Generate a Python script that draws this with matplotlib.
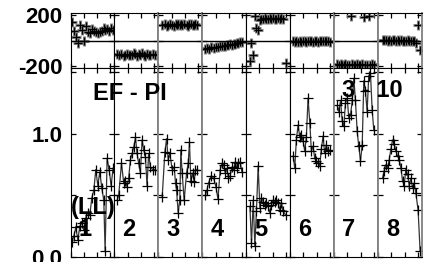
import matplotlib
matplotlib.use("Agg")
import matplotlib.pyplot as plt

plt.rcParams["font.family"] = ["Liberation Sans", "DejaVu Sans"]
plt.rcParams["font.weight"] = "bold"

# x positions (days within each segment, 0..33)
x1 = [1, 2.5, 4, 5.5, 7, 8.5, 10, 11.5, 13, 14.5, 16, 17.5, 19, 20.5, 22, 23.5, 25, 26, 27.5, 29, 30.5, 32]
x2 = [2, 3.2, 5.3, 7, 8.2, 9.5, 10.7, 12, 13.3, 14.5, 15.8, 17, 18.2, 19.5, 20.8, 22, 23.3, 24.5, 25.7, 27, 28.7, 30.2]
x3 = [2.9, 4.9, 6.2, 7.4, 8.6, 10.4, 11.9, 12.9, 13.7, 14.9, 16.1, 16.9, 17.9, 19.4, 21.2, 22.4, 23.4, 24.4, 25.7, 26.9, 27.9, 29.4]
x4 = [2.3, 3.5, 4.7, 6.8, 8.5, 10.3, 11.8, 13.5, 14.8, 16, 17.3, 18.5, 19.7, 21, 22.3, 23.5, 24.8, 26, 27.2, 28.5, 29.8]
x5 = [2.8, 4, 5.3, 6.5, 7.7, 9, 10.3, 11.5, 12.8, 14, 15.2, 16.5, 17.8, 19, 20.3, 21.5, 22.7, 24, 25.3, 26.5, 27.8, 29.8]
x6 = [2.3, 3.5, 4.7, 6, 7.3, 8.5, 9.8, 11, 12.2, 13.5, 14.8, 16, 17.3, 18.5, 19.7, 21, 22.3, 23.5, 24.8, 26, 27.2, 28.5, 30.2]
x7 = [2.4, 3.6, 4.9, 6.2, 7.4, 8.6, 9.9, 11.1, 12.4, 13.7, 14.9, 16.1, 17.4, 18.6, 19.9, 21.2, 22.4, 23.6, 24.9, 26.1, 27.4, 28.7, 29.9]
x8 = [3.5, 4.7, 6, 7.3, 8.5, 9.8, 11, 12.2, 13.5, 14.8, 16, 17.3, 18.5, 19.7, 21, 22.3, 23.5, 24.8, 26, 27.2, 28.5, 30.2, 31.7]

# lower panel: EF - PI values
ef1 = [0.12, 0.17, 0.24, 0.14, 0.25, 0.28, 0.22, 0.32, 0.36, 0.34, 0.48, 0.54, 0.71, 0.58, 0.69, 0.56, 0.46, 0.05, 0.80, 0.71, 0.58, 0.72]
ef2 = [0.46, 0.50, 0.76, 0.60, 0.62, 0.57, 0.64, 0.79, 0.84, 0.89, 0.97, 0.84, 0.76, 0.68, 0.95, 0.87, 0.81, 0.58, 0.84, 0.73, 0.71, 0.71]
ef3 = [0.49, 0.85, 0.96, 0.79, 0.84, 0.71, 0.73, 0.60, 0.54, 0.36, 0.46, 0.87, 0.68, 0.46, 0.68, 0.76, 0.93, 0.62, 0.68, 0.61, 0.71, 0.71]
ef4 = [0.50, 0.54, 0.60, 0.66, 0.64, 0.57, 0.47, 0.71, 0.76, 0.75, 0.68, 0.72, 0.64, 0.66, 0.73, 0.71, 0.77, 0.72, 0.76, 0.77, 0.69]
ef5 = [0.41, 0.11, 0.46, 0.09, 0.37, 0.74, 0.40, 0.48, 0.45, 0.42, 0.44, 0.41, 0.36, 0.42, 0.46, 0.45, 0.46, 0.44, 0.38, 0.44, 0.37, 0.34]
ef6 = [0.82, 0.72, 0.95, 1.07, 0.97, 0.99, 0.94, 0.86, 0.97, 1.29, 1.09, 0.86, 0.90, 0.80, 0.78, 0.76, 0.74, 0.88, 0.98, 0.84, 0.91, 0.86, 0.87]
ef7 = [1.23, 1.18, 1.27, 1.10, 1.06, 1.25, 1.29, 1.13, 1.15, 1.27, 1.45, 1.27, 1.02, 0.90, 0.78, 0.91, 1.43, 1.35, 1.18, 1.47, 1.49, 1.19, 1.03]
ef8 = [0.64, 0.70, 0.75, 0.72, 0.79, 0.88, 0.95, 0.92, 0.86, 0.82, 0.79, 0.72, 0.62, 0.58, 0.71, 0.67, 0.58, 0.64, 0.56, 0.60, 0.52, 0.38, 0.05]

# upper panel: phase values
ph1 = [145, 72, 25, -20, 124, 84, -6, 111, 66, 59, 90, 75, 66, 59, 70, 75, 98, 84, 90, 77, 95, 80]
ph2 = [-105, -112, -108, -118, -110, -104, -115, -109, -112, -100, -106, -120, -108, -113, -96, -110, -117, -105, -109, -114, -108, -112]
ph3 = [120, 128, 118, 125, 130, 122, 116, 127, 124, 132, 119, 126, 121, 129, 123, 118, 127, 131, 122, 125, 128, 120]
ph4 = [-64, -58, -62, -52, -55, -48, -50, -44, -46, -40, -42, -36, -38, -30, -34, -26, -28, -20, -22, -14, -8]
ph5 = [-163, -20, -111, 190, 98, 84, 163, 172, 168, 175, 166, 170, 178, 169, 174, 171, 167, 176, 170, 173, 168, -176]
ph6 = [-2, -8, 0, -10, -4, -12, -6, -3, -9, -5, -7, -1, -8, -4, -6, -10, -3, -5, -7, -2, -6, -4, -8]
ph7 = [-186, -190, -184, -192, -188, -185, -191, -187, 189, -183, -189, -190, -186, -188, -192, -185, 181, -189, -187, 189, -191, -186, -188]
ph8 = [6, 2, 8, 0, 4, -2, 5, 1, -4, 3, -1, 2, -5, 0, -3, 1, -6, -2, 0, -4, -20, 124, -72]

seg_labels = ["1", "2", "3", "4", "5", "6", "7", "8"]

xs = [x1, x2, x3, x4, x5, x6, x7, x8]
efs = [ef1, ef2, ef3, ef4, ef5, ef6, ef7, ef8]
phs = [ph1, ph2, ph3, ph4, ph5, ph6, ph7, ph8]

# which segment edges are drawn grey (left edge, right edge)
grey_left = [False, False, True, True, False, False, True, True]
grey_right = [False, True, True, False, False, True, True, True]

fig = plt.figure(figsize=(4.3, 2.62), dpi=100)
gs = fig.add_gridspec(2, 8, left=0.164, right=0.981, top=0.950, bottom=0.019,
                      height_ratios=[55, 189], wspace=0, hspace=0)

for i in range(8):
    top = fig.add_subplot(gs[0, i])
    bot = fig.add_subplot(gs[1, i])

    # grey halo under the plus marks, then the marks themselves
    top.plot(xs[i], phs[i], "+", color="#888888", markersize=7, mew=2.2)
    top.plot(xs[i], phs[i], "+", color="black", markersize=6, mew=0.9)
    top.axhline(0, color="black", linewidth=1)
    top.set_ylim(-215, 215)
    top.set_yticks([-200, 0, 200])

    bot.plot(xs[i], efs[i], color="#333333", linewidth=0.9)
    bot.plot(xs[i], efs[i], "+", color="black", markersize=7, mew=0.9)
    bot.set_ylim(0, 1.533)
    bot.set_yticks([0, 0.5, 1.0, 1.5])
    bot.text(11, 0.22, seg_labels[i], fontsize=17, fontweight="bold",
             ha="center", va="center")

    for ax in (top, bot):
        ax.set_xlim(0, 33)
        ax.set_xticks([0, 10, 20, 30])
        ax.tick_params(direction="in", top=True, right=True, length=3.5,
                       width=0.9, labelbottom=False, labelsize=16, pad=6)
        ax.spines["left"].set_color("#808080" if grey_left[i] else "black")
        ax.spines["right"].set_color("#808080" if grey_right[i] else "black")
        if grey_left[i]:
            ax.spines["left"].set_linewidth(1.3)
        if grey_right[i]:
            ax.spines["right"].set_linewidth(1.3)
        if i > 0:
            ax.tick_params(labelleft=False)

    if i == 0:
        top.set_yticklabels(["-200", "", "200"], fontweight="bold")
        bot.set_yticklabels(["0.0", "", "1.0", ""], fontweight="bold")

fig.text(0.302, 0.645, "EF - PI", fontsize=17, fontweight="bold", ha="center", va="center")
fig.text(0.867, 0.653, "3 - 10", fontsize=17, fontweight="bold", ha="center", va="center")
fig.text(0.217, 0.208, "(LL)", fontsize=17, fontweight="bold", ha="center", va="center")

fig.savefig("out.png", dpi=100)
